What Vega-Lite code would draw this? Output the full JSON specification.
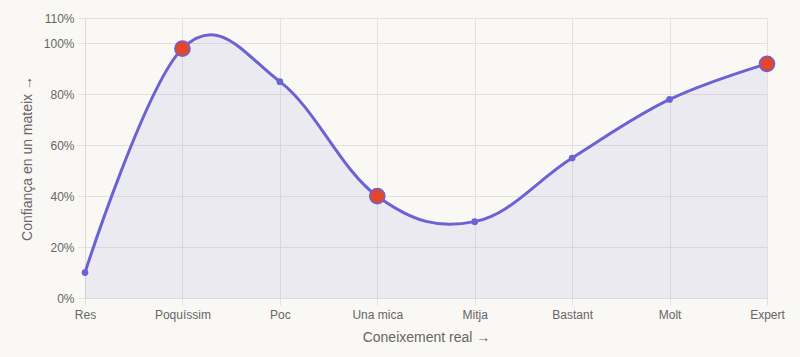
{
  "$schema": "https://vega.github.io/schema/vega-lite/v6.json",
  "autosize": "none",
  "width": 682,
  "height": 280,
  "padding": {"left": 85, "top": 18, "right": 33, "bottom": 59},
  "background": "#f9f8f4",
  "config": {
    "view": {"stroke": null},
    "font": "Liberation Sans",
    "axis": {
      "labelFont": "Liberation Sans",
      "titleFont": "Liberation Sans",
      "labelColor": "#666666",
      "titleColor": "#666666",
      "labelFontSize": 12,
      "titleFontSize": 14,
      "titleFontWeight": "normal",
      "gridColor": "#e3e1de",
      "tickColor": "#e3e1de",
      "domainColor": "#dcdad6",
      "tickSize": 7
    }
  },
  "data": {
    "values": [
      {"coneixement": "Res", "confianca": 10, "clau": false},
      {"coneixement": "Poquíssim", "confianca": 98, "clau": true},
      {"coneixement": "Poc", "confianca": 85, "clau": false},
      {"coneixement": "Una mica", "confianca": 40, "clau": true},
      {"coneixement": "Mitja", "confianca": 30, "clau": false},
      {"coneixement": "Bastant", "confianca": 55, "clau": false},
      {"coneixement": "Molt", "confianca": 78, "clau": false},
      {"coneixement": "Expert", "confianca": 92, "clau": true}
    ]
  },
  "encoding": {
    "x": {
      "field": "coneixement",
      "type": "ordinal",
      "sort": ["Res", "Poquíssim", "Poc", "Una mica", "Mitja", "Bastant", "Molt", "Expert"],
      "scale": {"type": "point", "padding": 0},
      "axis": {"title": "Coneixement real →", "labelAngle": 0, "labelPadding": 4, "titlePadding": 10, "grid": true, "domain": true}
    },
    "y": {
      "field": "confianca",
      "type": "quantitative",
      "scale": {"domain": [0, 110], "nice": false},
      "axis": {
        "title": "Confiança en un mateix →",
        "values": [0, 20, 40, 60, 80, 100, 110],
        "labelExpr": "datum.value + '%'",
        "grid": true,
        "domain": true,
        "labelPadding": 4,
        "titlePadding": 9
      }
    }
  },
  "layer": [
    {
      "mark": {"type": "area", "interpolate": "cardinal", "tension": -0.12, "color": "#6b63d4", "opacity": 0.09}
    },
    {
      "mark": {"type": "line", "interpolate": "cardinal", "tension": -0.12, "color": "#6b63d4", "strokeWidth": 3}
    },
    {
      "transform": [{"filter": "!datum.clau"}],
      "mark": {"type": "point", "filled": true, "color": "#6b63d4", "size": 45, "opacity": 1}
    },
    {
      "transform": [{"filter": "datum.clau"}],
      "mark": {"type": "point", "filled": true, "fill": "#e0472c", "stroke": "#6b63d4", "strokeWidth": 1.5, "size": 230, "opacity": 1}
    }
  ]
}
